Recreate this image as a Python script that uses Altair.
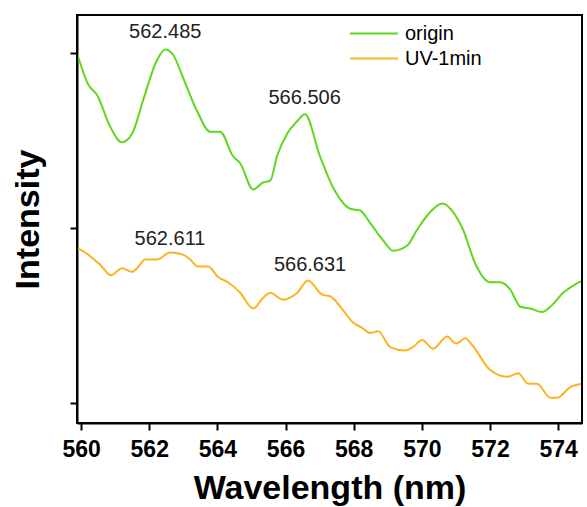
import altair as alt
import pandas as pd

# ---- data ----
origin_wl = [559.88, 560.21, 560.47, 560.85, 561.20, 561.50, 561.82, 562.23, 562.47, 562.70,
             562.99, 563.40, 563.79, 564.08, 564.46, 564.67, 565.05, 565.34, 565.55, 565.75,
             566.05, 566.34, 566.57, 567.01, 567.40, 567.90, 568.19, 568.48, 568.86, 569.16,
             569.57, 569.86, 570.24, 570.60, 570.92, 571.21, 571.56, 572.00, 572.30, 572.59,
             572.89, 573.18, 573.53, 573.77, 574.15, 574.70]
origin_int = [2.00, 1.82, 1.76, 1.58, 1.49, 1.54, 1.73, 1.96, 2.02, 1.99,
              1.86, 1.67, 1.55, 1.55, 1.41, 1.37, 1.22, 1.26, 1.27, 1.41,
              1.54, 1.61, 1.65, 1.41, 1.23, 1.11, 1.10, 1.03, 0.93, 0.87,
              0.90, 0.99, 1.09, 1.14, 1.09, 0.99, 0.80, 0.69, 0.69, 0.65,
              0.55, 0.54, 0.52, 0.55, 0.63, 0.70]

uv_wl = [559.88, 560.12, 560.56, 560.88, 561.20, 561.50, 561.64, 561.88, 562.23, 562.61,
         562.96, 563.20, 563.43, 563.73, 564.02, 564.31, 564.67, 565.05, 565.34, 565.55,
         565.93, 566.34, 566.66, 567.07, 567.31, 567.69, 567.98, 568.25, 568.48, 568.72,
         569.07, 569.51, 569.74, 570.01, 570.33, 570.74, 571.01, 571.27, 571.48, 572.00,
         572.50, 572.83, 573.12, 573.38, 573.77, 573.97, 574.35, 574.70]
uv_int = [0.886, 0.86, 0.79, 0.73, 0.77, 0.75, 0.77, 0.82, 0.82, 0.86,
          0.85, 0.82, 0.78, 0.78, 0.72, 0.69, 0.63, 0.54, 0.60, 0.63,
          0.59, 0.63, 0.70, 0.62, 0.61, 0.53, 0.46, 0.43, 0.40, 0.41,
          0.32, 0.30, 0.32, 0.36, 0.31, 0.38, 0.34, 0.37, 0.33, 0.19,
          0.15, 0.17, 0.11, 0.11, 0.03, 0.03, 0.09, 0.11]

series_names = ["origin", "UV-1min"]
series_colors = ["#5fd81c", "#fdb320"]

peak_labels = ["562.485", "566.506", "562.611", "566.631"]
peak_wl = [562.47, 566.56, 562.61, 566.72]
peak_int = [2.12, 1.74, 0.94, 0.79]

x_ticks = [560, 561, 562, 563, 564, 565, 566, 567, 568, 569, 570, 571, 572, 573, 574]
y_ticks = [0, 1, 2]

x_domain = [559.88, 574.70]
y_domain = [-0.114, 2.217]

# ---- tables ----
df = pd.concat([
    pd.DataFrame({"wl": origin_wl, "val": origin_int, "series": series_names[0], "ord": range(len(origin_wl))}),
    pd.DataFrame({"wl": uv_wl, "val": uv_int, "series": series_names[1], "ord": range(len(uv_wl))}),
])
peaks = pd.DataFrame({"wl": peak_wl, "val": peak_int, "label": peak_labels})

FONT = "Liberation Sans"
xscale = alt.Scale(domain=x_domain, nice=False, zero=False)
yscale = alt.Scale(domain=y_domain, nice=False, zero=False)

lines = alt.Chart(df).mark_line(strokeWidth=2, interpolate="monotone", clip=True).encode(
    x=alt.X("wl:Q", scale=xscale,
            axis=alt.Axis(values=x_ticks, title="Wavelength (nm)",
                          labelExpr="datum.value % 2 === 0 ? datum.label : ''",
                          tickSize={"condition": {"test": "datum.value % 2 === 0", "value": 7}, "value": 4},
                          tickWidth=2,
                          domainWidth=2, domainColor="black", tickColor="black", grid=False,
                          labelFont=FONT, labelFontSize=23, labelFontWeight="bold", labelColor="black",
                          labelPadding=8, titleFont=FONT, titleFontSize=34, titleFontWeight="bold",
                          titleColor="black", titlePadding=10, labelFlush=False, orient="bottom")),
    y=alt.Y("val:Q", scale=yscale,
            axis=alt.Axis(values=y_ticks, labels=False, title="Intensity", tickSize=7, tickWidth=2,
                          domainWidth=2, domainColor="black", tickColor="black", grid=False,
                          titleFont=FONT, titleFontSize=34, titleFontWeight="bold",
                          titleColor="black", titlePadding=24, orient="left")),
    color=alt.Color("series:N", scale=alt.Scale(domain=series_names, range=series_colors),
                    legend=alt.Legend(title=None, orient="none", legendX=272, legendY=6,
                                      symbolType="stroke", symbolSize=2304, symbolStrokeWidth=2,
                                      labelFont=FONT, labelFontSize=20, labelColor="black",
                                      labelOffset=6, clipHeight=25, rowPadding=0)),
    order="ord:Q",
)

texts = alt.Chart(peaks).mark_text(font=FONT, fontSize=20, color="#222222", baseline="middle").encode(
    x=alt.X("wl:Q", scale=xscale),
    y=alt.Y("val:Q", scale=yscale),
    text="label:N",
)

# plot frame spanning the full scale domains
frame = alt.Chart(peaks.head(1)).mark_rect(stroke="black", strokeWidth=2, filled=False).encode(
    x=alt.datum(x_domain[0], scale=xscale),
    x2=alt.datum(x_domain[1]),
    y=alt.datum(y_domain[0], scale=yscale),
    y2=alt.datum(y_domain[1]),
)

chart = alt.layer(lines, texts, frame).properties(
    width=505, height=408,
    background="white",
    autosize=alt.AutoSizeParams(type="none"),
    padding={"left": 77, "top": 15, "right": 5, "bottom": 84},
).configure_view(stroke="black", strokeWidth=2)

chart.save("out.html", embed_options={"renderer": "svg", "actions": False})
